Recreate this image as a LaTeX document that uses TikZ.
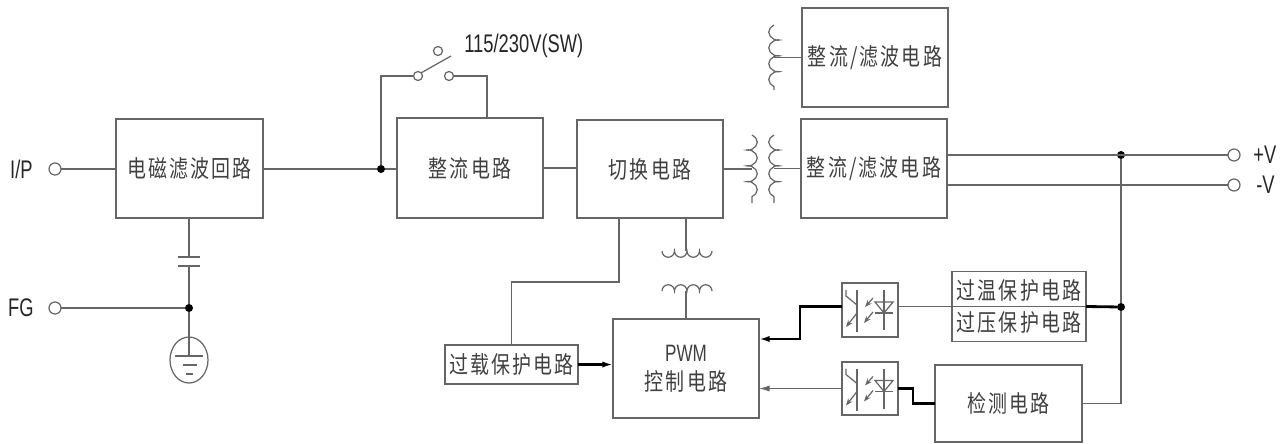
\documentclass[tikz,border=0pt]{standalone}
\usepackage{fontspec}
\setmainfont{Liberation Sans}[FakeStretch=0.72]
\newfontfamily\cjk{Noto Sans CJK SC}[FakeStretch=0.8,LetterSpace=9]
\usetikzlibrary{arrows.meta,decorations.pathmorphing}

\newcommand\optosym[1]{%
  \begin{scope}[shift={(#1)}]
    \draw[wire] (-24,20) -- (-24,14) -- (-13,5); %collector
    \draw[wire,-{Stealth[length=4pt,width=3pt]}] (-13,-3) -- (-24,-17); %emitter
    \draw[wire] (-13,20) -- (-13,-22); %base
    \draw[wire,-{Stealth[length=4pt,width=3pt]}] (3,12) -- (-5,3); %light
    \draw[wire,-{Stealth[length=4pt,width=3pt]}] (3,-2) -- (-6,-13); %light
    \draw[wire] (14,20) -- (14,-20); %diode
    \draw[wire] (5,8) -- (23,8) -- (14,-3) -- cycle;
    \draw[wire] (5,-3) -- (23,-3);
  \end{scope}}

\begin{document}
\begin{tikzpicture}[x=0.02cm,y=0.02cm,
  wire/.style={black!60,line width=0.7pt},
  bus/.style={black,line width=1.6pt},
  blk/.style={draw=black!60,line width=0.7pt,inner sep=0pt,outer sep=0pt,text=black!75,
    font=\cjk\fontsize{13.5}{18.5}\selectfont,align=center},
  term/.style={circle,draw=black!60,line width=0.7pt,minimum size=0.24cm,inner sep=0pt,outer sep=0pt},
  dot/.style={circle,fill=black,minimum size=0.16cm,inner sep=0pt,outer sep=0pt},
  lbl/.style={inner sep=0pt,text=black!85,font=\fontsize{14.5}{17}\selectfont},
  coilv/.style={wire,decorate,decoration={coil,aspect=0.6,amplitude=3pt,segment length=9pt}},
  coilh/.style={wire,decorate,decoration={coil,aspect=0.6,amplitude=3.4pt,segment length=7pt}}]
  \useasboundingbox (0,0) rectangle (1287,-443);

  % blocks
  \node[blk,minimum width=2.94cm,minimum height=1.98cm] (emi) at (189.5,-168.5) {电磁滤波回路};
  \node[blk,minimum width=2.92cm,minimum height=2cm] (rect) at (470,-168) {整流电路};
  \node[blk,minimum width=2.92cm,minimum height=1.96cm] (sw) at (650,-169) {切换电路};
  \node[blk,minimum width=2.92cm,minimum height=1.98cm] (out1) at (875,-57.5) {整流/滤波电路};
  \node[blk,minimum width=2.92cm,minimum height=1.98cm] (out2) at (874,-168.5) {整流/滤波电路};
  \node[blk,minimum width=2.92cm,minimum height=1.98cm] (pwm) at (686,-368.5)
    {{\rmfamily\fontsize{13.5}{15}\selectfont PWM}\\[-2pt]控制电路};
  \node[blk,minimum width=2.94cm,minimum height=1.54cm] (detect) at (1008.5,-403.5) {检测电路};
  \node[blk,minimum width=2.66cm,minimum height=0.78cm] (ovl) at (511.5,-364.5) {过载保护电路};
  \node[blk,minimum width=2.68cm,minimum height=1.4cm] (prot) at (1019,-306.5) {过温保护电路\\过压保护电路};
  \node[blk,minimum width=1.12cm,minimum height=1.08cm] (opto1) at (870,-310) {};
  \node[blk,minimum width=1.12cm,minimum height=1.06cm] (opto2) at (870,-388.5) {};
  \optosym{opto1}
  \optosym{opto2}

  % terminals
  \node[term] (ip) at (55,-169) {};
  \node[lbl,anchor=east] (iplbl) at (33,-169) {I/P};
  \node[term] (fg) at (55,-308) {};
  \node[lbl,anchor=east] (fglbl) at (34,-308) {FG};
  \node[term] (pv) at (1234,-155) {};
  \node[lbl,anchor=west] (pvlbl) at (1253,-155) {+V};
  \node[term] (nv) at (1234,-185) {};
  \node[lbl,anchor=west] (nvlbl) at (1256,-185) {-V};

  % input side
  \node[dot] (j1) at (381,-169) {};
  \node[dot] (j2) at (189,-308) {};
  \draw[wire] (ip.east) -- (ip.east -| emi.west);
  \draw[wire] (emi.east |- j1) -- (j1) -- (j1 -| rect.west);
  \draw[wire] (rect.east) -- (rect.east -| sw.west);
  \coordinate (ca) at (189,-257);
  \coordinate (cb) at (189,-266);
  \draw[wire] (emi.south -| ca) -- (ca); %kondensator
  \draw[wire] (178,-257) -- (200,-257);
  \draw[wire] (178,-266) -- (200,-266);
  \draw[wire] (cb) -- (j2);
  \draw[wire] (fg.east) -- (j2);
  \draw[wire] (j2) -- (189,-356); %jord
  \draw[wire] (189,-360) ellipse (19 and 23);
  \draw[wire] (175,-356) -- (203,-356);
  \draw[wire] (183,-365) -- (197,-365);
  \draw[wire] (186,-374) -- (193,-374);

  % switch
  \node[term,minimum size=0.18cm] (s1) at (418,-76) {};
  \node[term,minimum size=0.18cm] (s2) at (449,-76) {};
  \node[term,minimum size=0.18cm] (s3) at (438,-51) {};
  \coordinate (rtop) at (487,-118);
  \draw[wire] (j1) |- (s1.west);
  \draw[wire] (s2.east) -| (rtop);
  \draw[wire] (s1.north east) -- (451,-56);
  \node[lbl,anchor=west] (swlbl) at (464,-46) {115/230V(SW)};

  % transformers
  \coordinate (pa) at (752,-135);
  \coordinate (pb) at (752,-203);
  \coordinate (sa) at (774,-135);
  \coordinate (sb) at (774,-203);
  \coordinate (ta) at (774,-25);
  \coordinate (tb) at (774,-90);
  \draw[coilv] (pa) -- (pb);
  \draw[coilv,decoration={mirror}] (sa) -- (sb);
  \draw[coilv,decoration={mirror}] (ta) -- (tb);
  \draw[wire] (sw.east) -- (sw.east -| pa);
  \draw[wire] (sa |- out2.west) -- (out2.west);
  \draw[wire] (ta |- out1.west) -- (out1.west);

  \coordinate (ktop) at (686,-218);
  \draw[wire] (ktop) -- (686,-251);
  \draw[wire] (662,-251) arc(180:360:6.25) arc(180:360:6.25) arc(180:360:6.25) arc(180:360:6.25);
  \draw[wire] (662,-291) arc(180:0:6.25) arc(180:0:6.25) arc(180:0:6.25) arc(180:0:6.25);
  \draw[wire] (686,-291) -- (pwm.north);

  % outputs
  \node[dot] (j3) at (1121,-155) {};
  \node[dot] (j4) at (1121,-307) {};
  \draw[wire] (out2.east |- pv) -- (pv.west);
  \draw[wire] (out2.east |- nv) -- (nv.west);
  \draw[wire] (j3) -- (j4);
  \draw[wire] (j4) |- (detect.east);
  \draw[wire] (prot.west) -- (prot.east);
  \draw[bus] (prot.east) -- (j4);
  \draw[wire] (opto1.east |- prot.west) -- (prot.west);

  % feedback
  \coordinate (tap) at (619,-218);
  \coordinate (pin1) at (759,-339);
  \draw[wire] (tap) -- (619,-282) -| (ovl.north);
  \draw[bus,-{Latex[length=6pt,width=3.5pt]}] (ovl.east) -- (ovl.east -| pwm.west);
  \draw[bus,-{Latex[length=6pt,width=3.5pt]}] (opto1.west |- prot.west) -- (800,-306.5) -- (800,-339) -- (pin1);
  \draw[wire,-{Latex[length=6pt,width=3.5pt]}] (opto2.west) -- (opto2.west -| pwm.east);
  \draw[bus] (opto2.east) -- (913,-388.5) |- (detect.west);
\end{tikzpicture}
\end{document}
